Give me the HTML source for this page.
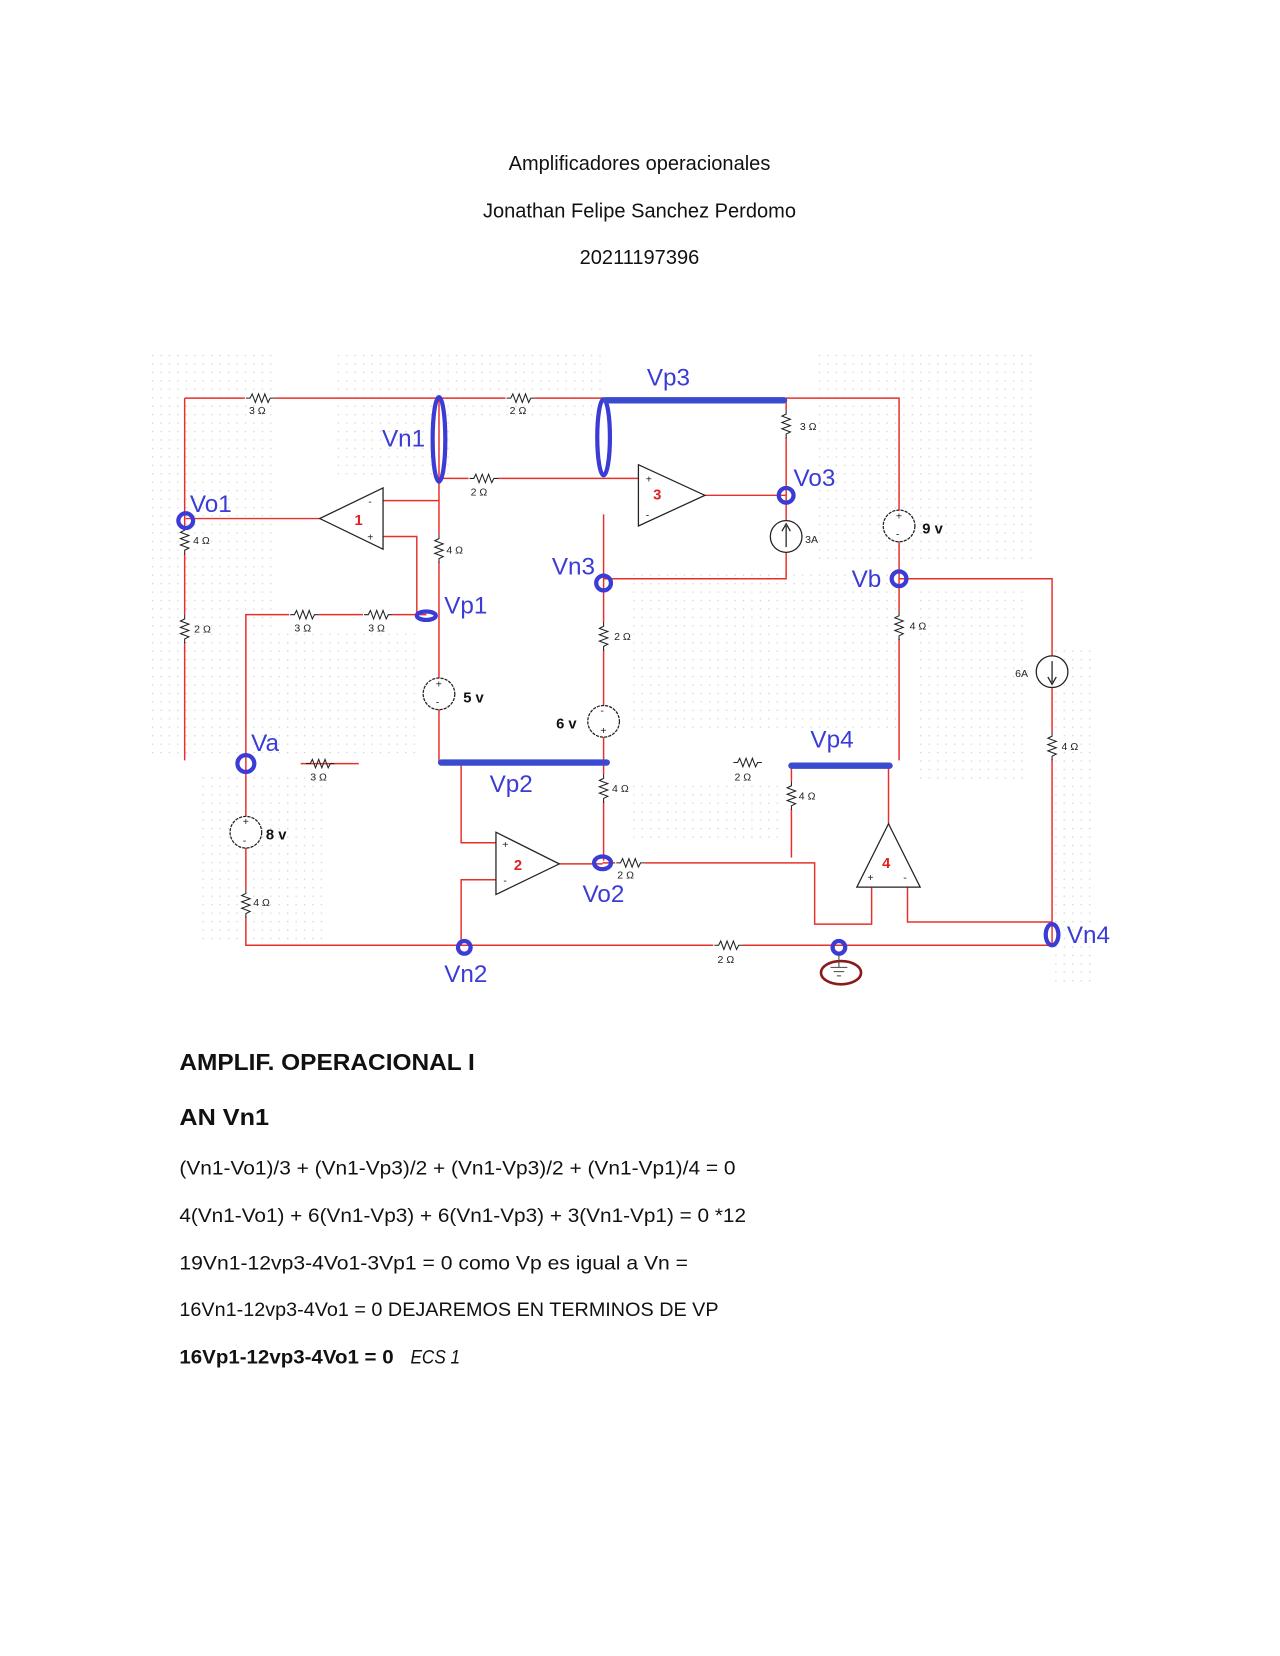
<!DOCTYPE html>
<html><head><meta charset="utf-8"><style>
html,body{margin:0;padding:0;background:#fff;}
svg{display:block;}
.t{font-family:"Liberation Sans",sans-serif;fill:#111;}
.lb{font-family:"Liberation Sans",sans-serif;fill:#3b3bd6;font-size:23px;}
.sm{font-family:"Liberation Sans",sans-serif;fill:#222;font-size:10px;}
.w{stroke:#e8302a;stroke-width:1.4;fill:none;}
.k{stroke:#222;stroke-width:1.2;fill:none;}
.n{stroke:#3b3bd6;stroke-width:4;fill:none;}
.bar{stroke:#3b4bd0;stroke-width:6;stroke-linecap:round;}
</style></head><body>
<svg width="1280" height="1656" viewBox="0 0 1213 1568" preserveAspectRatio="none" xmlns="http://www.w3.org/2000/svg">
<defs>
<path id="rh" d="M-13,0 h4 l2,-4 l3,8 l3,-8 l3,8 l3,-8 l3,8 l2,-4 h4" fill="none" stroke="#222" stroke-width="1"/>
<path id="rv" d="M0,-13 v4 l-4,2 l8,3 l-8,3 l8,3 l-8,3 l8,3 l-4,2 v4" fill="none" stroke="#222" stroke-width="1"/>
<pattern id="dots" width="8" height="8" patternUnits="userSpaceOnUse"><rect x="0" y="0" width="1.2" height="1.2" fill="#999"/></pattern>
</defs>
<rect width="1213" height="1568" fill="#fff"/>
<g class="t" font-size="19" text-anchor="middle">
<text x="606" y="161">Amplificadores operacionales</text>
<text x="606" y="206">Jonathan Felipe Sanchez Perdomo</text>
<text x="606" y="250">20211197396</text>
</g>
<!-- faint dotted background regions -->
<g opacity="0.45">
<rect x="143" y="335" width="120" height="380" fill="url(#dots)"/>
<rect x="320" y="335" width="110" height="120" fill="url(#dots)"/>
<rect x="430" y="335" width="140" height="60" fill="url(#dots)"/>
<rect x="770" y="335" width="210" height="200" fill="url(#dots)"/>
<rect x="600" y="540" width="250" height="150" fill="url(#dots)"/>
<rect x="870" y="560" width="100" height="180" fill="url(#dots)"/>
<rect x="190" y="730" width="120" height="160" fill="url(#dots)"/>
<rect x="600" y="740" width="140" height="60" fill="url(#dots)"/>
<rect x="1000" y="610" width="40" height="320" fill="url(#dots)"/>
<rect x="260" y="600" width="140" height="120" fill="url(#dots)"/>
</g>
<!-- wires -->
<g class="w">
<path d="M175,377 H852 V485 M852,512 V720"/>
<path d="M175,377 V720"/>
<path d="M416,377 V645 M416,670 V722"/>
<path d="M416,453 H605"/>
<path d="M745,377 V495 M745,522 V548 H572"/>
<path d="M668,469 H745"/>
<path d="M572,487 V670 M572,697 V815"/>
<path d="M176,491 H303"/>
<path d="M363,474 H416"/>
<path d="M363,508 H395 V583"/>
<path d="M404,582 H233 V775 M233,802 V895 H997"/>
<path d="M285,723 H340"/>
<path d="M416,722 H577"/>
<path d="M437,722 V798 H470 M470,833 H437 V895"/>
<path d="M530,818 H571 M571,817 H772 V875 H826 V840"/>
<path d="M750,725 V812"/>
<path d="M842,725 V780"/>
<path d="M860,840 V873 H997"/>
<path d="M852,548 H997 V622 M997,650 V895"/>
</g>
<!-- resistors -->
<g>
<rect x="232" y="372" width="28" height="10" fill="#fff"/><use href="#rh" x="246" y="377"/>
<rect x="479" y="372" width="28" height="10" fill="#fff"/><use href="#rh" x="493" y="377"/>
<rect x="444" y="448" width="28" height="10" fill="#fff"/><use href="#rh" x="458" y="453"/>
<rect x="274" y="577" width="28" height="10" fill="#fff"/><use href="#rh" x="288" y="582"/>
<rect x="344" y="577" width="28" height="10" fill="#fff"/><use href="#rh" x="358" y="582"/>
<use href="#rh" x="303" y="723"/>
<rect x="583" y="812" width="28" height="10" fill="#fff"/><use href="#rh" x="597" y="817"/>
<use href="#rh" x="708" y="722"/>
<rect x="676" y="890" width="28" height="10" fill="#fff"/><use href="#rh" x="690" y="895"/>
<rect x="740" y="388" width="10" height="26" fill="#fff"/><use href="#rv" x="745" y="401"/>
<rect x="411" y="506" width="10" height="26" fill="#fff"/><use href="#rv" x="416" y="519"/>
<rect x="170" y="498" width="10" height="26" fill="#fff"/><use href="#rv" x="175" y="511"/>
<rect x="170" y="582" width="10" height="26" fill="#fff"/><use href="#rv" x="175" y="595"/>
<rect x="567" y="589" width="10" height="26" fill="#fff"/><use href="#rv" x="572" y="602"/>
<rect x="567" y="733" width="10" height="26" fill="#fff"/><use href="#rv" x="572" y="746"/>
<rect x="745" y="740" width="10" height="26" fill="#fff"/><use href="#rv" x="750" y="753"/>
<rect x="847" y="579" width="10" height="26" fill="#fff"/><use href="#rv" x="852" y="592"/>
<rect x="992" y="693" width="10" height="26" fill="#fff"/><use href="#rv" x="997" y="706"/>
<rect x="228" y="842" width="10" height="26" fill="#fff"/><use href="#rv" x="233" y="855"/>
</g>
<g class="sm">
<text x="236" y="392">3 Ω</text><text x="483" y="392">2 Ω</text><text x="446" y="469">2 Ω</text>
<text x="758" y="407">3 Ω</text><text x="423" y="524">4 Ω</text><text x="183" y="515">4 Ω</text>
<text x="184" y="599">2 Ω</text><text x="279" y="598">3 Ω</text><text x="349" y="598">3 Ω</text>
<text x="582" y="606">2 Ω</text><text x="580" y="750">4 Ω</text><text x="757" y="757">4 Ω</text>
<text x="862" y="596">4 Ω</text><text x="1006" y="710">4 Ω</text><text x="240" y="858">4 Ω</text>
<text x="294" y="739">3 Ω</text><text x="696" y="739">2 Ω</text><text x="585" y="832">2 Ω</text>
<text x="680" y="912">2 Ω</text><text x="763" y="514">3A</text><text x="962" y="641">6A</text>
</g>
<!-- sources -->
<g class="k" fill="#fff">
<ellipse cx="416" cy="657" rx="15" ry="15" fill="#fff" stroke-dasharray="3,1"/>
<ellipse cx="572" cy="683" rx="15" ry="15" fill="#fff" stroke-dasharray="3,1"/>
<ellipse cx="852" cy="498" rx="15" ry="15" fill="#fff" stroke-dasharray="3,1"/>
<ellipse cx="233" cy="788" rx="15" ry="15" fill="#fff" stroke-dasharray="3,1"/>
<ellipse cx="745" cy="508" rx="15" ry="15" fill="#fff"/>
<ellipse cx="997" cy="636" rx="15" ry="15" fill="#fff"/>
<path d="M745,518 V498 M741,503 L745,496 L749,503"/>
<path d="M997,626 V646 M993,641 L997,648 L1001,641"/>
</g>
<g class="sm" font-size="9">
<text x="413" y="651">+</text><text x="413" y="668">-</text>
<text x="569" y="676">-</text><text x="569" y="695">+</text>
<text x="849" y="492">+</text><text x="849" y="509">-</text>
<text x="230" y="781">+</text><text x="230" y="799">-</text>
</g>
<g class="t" font-size="14" font-weight="bold">
<text x="439" y="665">5 v</text><text x="527" y="690">6 v</text><text x="874" y="505">9 v</text><text x="252" y="795">8 v</text>
</g>
<!-- op amps -->
<g class="k" fill="#fff">
<polygon points="605,440 605,498 668,469" fill="#fff"/>
<polygon points="363,462 363,520 303,491" fill="#fff"/>
<polygon points="470,788 470,847 530,818" fill="#fff"/>
<polygon points="842,780 812,840 872,840" fill="#fff"/>
</g>
<g class="sm" font-size="10">
<text x="612" y="457">+</text><text x="612" y="491">-</text>
<text x="349" y="478">-</text><text x="348" y="512">+</text>
<text x="476" y="803">+</text><text x="477" y="837">-</text>
<text x="822" y="834">+</text><text x="856" y="834">-</text>
</g>
<g font-family="Liberation Sans,sans-serif" font-size="14" font-weight="bold" fill="#e02020">
<text x="619" y="473">3</text><text x="336" y="497">1</text><text x="487" y="824">2</text><text x="836" y="822">4</text>
</g>
<!-- nodes -->
<g class="n">
<ellipse cx="416" cy="416" rx="6" ry="40"/>
<ellipse cx="572" cy="414" rx="6" ry="36"/>
<circle cx="176" cy="493" r="7"/>
<circle cx="745" cy="469" r="7"/>
<circle cx="572" cy="552" r="7"/>
<circle cx="852" cy="548" r="7"/>
<ellipse cx="404" cy="583" rx="9" ry="4"/>
<circle cx="233" cy="723" r="8"/>
<ellipse cx="571" cy="817" rx="8" ry="6"/>
<circle cx="440" cy="897" r="6"/>
<circle cx="795" cy="897" r="6"/>
<ellipse cx="997" cy="885" rx="6" ry="10"/>
</g>
<line class="bar" x1="574" y1="379" x2="743" y2="379"/>
<line class="bar" x1="418" y1="722" x2="575" y2="722"/>
<line class="bar" x1="750" y1="725" x2="843" y2="725"/>
<ellipse cx="797" cy="921" rx="19" ry="11" fill="none" stroke="#8b1a1a" stroke-width="2.5"/>
<path d="M795,903 V916 M787,916 H803 M790,920 H800 M793,924 H797" stroke="#444" stroke-width="1" fill="none"/>
<g class="lb">
<text x="613" y="365">Vp3</text><text x="362" y="423">Vn1</text><text x="752" y="460">Vo3</text>
<text x="180" y="485">Vo1</text><text x="523" y="544">Vn3</text><text x="807" y="556">Vb</text>
<text x="421" y="581">Vp1</text><text x="238" y="711">Va</text><text x="768" y="708">Vp4</text>
<text x="464" y="750">Vp2</text><text x="552" y="854">Vo2</text><text x="421" y="930">Vn2</text>
<text x="1011" y="893">Vn4</text>
</g>
<!-- text -->
<g class="t">
<text x="170" y="1013" font-size="22" font-weight="bold" textLength="280" lengthAdjust="spacingAndGlyphs">AMPLIF. OPERACIONAL I</text>
<text x="170" y="1065" font-size="22" font-weight="bold" textLength="85" lengthAdjust="spacingAndGlyphs">AN Vn1</text>
<text x="170" y="1112" font-size="18" textLength="527" lengthAdjust="spacingAndGlyphs">(Vn1-Vo1)/3 + (Vn1-Vp3)/2 + (Vn1-Vp3)/2 + (Vn1-Vp1)/4 = 0</text>
<text x="170" y="1157" font-size="18" textLength="537" lengthAdjust="spacingAndGlyphs">4(Vn1-Vo1) + 6(Vn1-Vp3) + 6(Vn1-Vp3) + 3(Vn1-Vp1) = 0  *12</text>
<text x="170" y="1202" font-size="18" textLength="482" lengthAdjust="spacingAndGlyphs">19Vn1-12vp3-4Vo1-3Vp1 = 0    como Vp es igual a Vn =</text>
<text x="170" y="1246" font-size="18" textLength="511" lengthAdjust="spacingAndGlyphs">16Vn1-12vp3-4Vo1 = 0   DEJAREMOS EN TERMINOS DE VP</text>
<text x="170" y="1291" font-size="18" font-weight="bold" textLength="203" lengthAdjust="spacingAndGlyphs">16Vp1-12vp3-4Vo1 = 0</text>
<text x="389" y="1291" font-size="18" font-style="italic" textLength="47" lengthAdjust="spacingAndGlyphs">ECS 1</text>
</g>
</svg>
</body></html>
